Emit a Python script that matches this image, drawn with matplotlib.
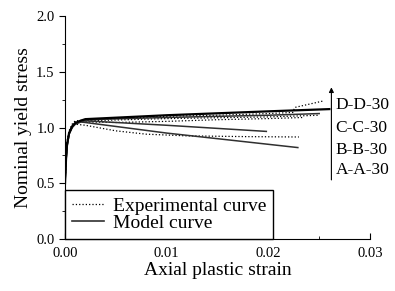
import matplotlib
matplotlib.use("Agg")
import matplotlib.pyplot as plt
from matplotlib.ticker import MultipleLocator, FormatStrFormatter

plt.rcParams["font.family"] = ["Liberation Serif", "DejaVu Serif"]

# Experimental curves (strain, nominal stress)
exp_a_x = [0, 0.0001, 0.0002, 0.0004, 0.0007, 0.001, 0.002, 0.005, 0.008, 0.012, 0.018, 0.023]
exp_a_y = [0.5, 0.72, 0.85, 0.95, 1.0, 1.03, 1.02, 0.97, 0.94, 0.925, 0.918, 0.915]
exp_b_x = [0, 0.0001, 0.0002, 0.0004, 0.0007, 0.001, 0.002, 0.005, 0.01, 0.015, 0.02, 0.0235]
exp_b_y = [0.5, 0.72, 0.85, 0.95, 1.01, 1.04, 1.05, 1.045, 1.055, 1.07, 1.08, 1.09]
exp_c_x = [0, 0.0001, 0.0002, 0.0004, 0.0007, 0.001, 0.002, 0.01, 0.02, 0.025]
exp_c_y = [0.5, 0.72, 0.86, 0.96, 1.02, 1.05, 1.06, 1.08, 1.095, 1.11]
exp_d_x = [0, 0.0001, 0.0002, 0.0004, 0.0007, 0.001, 0.002, 0.005, 0.01, 0.015, 0.02, 0.0224, 0.0226, 0.0255]
exp_d_y = [0.5, 0.73, 0.87, 0.97, 1.03, 1.06, 1.065, 1.08, 1.1, 1.11, 1.125, 1.135, 1.18, 1.24]

# Model curves
mod_a_x = [0, 0.0001, 0.0002, 0.0004, 0.0007, 0.001, 0.0015, 0.002, 0.01, 0.0229]
mod_a_y = [0.5, 0.7, 0.83, 0.94, 1.0, 1.03, 1.05, 1.045, 0.95, 0.82]
mod_b_x = [0, 0.0001, 0.0002, 0.0004, 0.0007, 0.001, 0.0015, 0.002, 0.01, 0.0198]
mod_b_y = [0.5, 0.7, 0.83, 0.94, 1.0, 1.03, 1.05, 1.06, 1.02, 0.965]
mod_c_x = [0, 0.0001, 0.0002, 0.0004, 0.0007, 0.001, 0.0015, 0.002, 0.01, 0.02, 0.025]
mod_c_y = [0.5, 0.71, 0.84, 0.95, 1.01, 1.04, 1.06, 1.07, 1.09, 1.11, 1.125]
mod_d_x = [0, 0.0001, 0.0002, 0.0004, 0.0007, 0.001, 0.0015, 0.002, 0.01, 0.02, 0.026]
mod_d_y = [0.5, 0.72, 0.85, 0.95, 1.01, 1.04, 1.06, 1.075, 1.11, 1.145, 1.165]

specimens = ["D-D-30", "C-C-30", "B-B-30", "A-A-30"]
label_y = [1.2, 0.995, 0.8, 0.615]

fig = plt.figure(figsize=(3.95, 2.91), dpi=100)
ax = fig.add_axes([0.1646, 0.1787, 0.7722, 0.7663])

# Experimental curves, dotted
for xs, ys in [(exp_a_x, exp_a_y), (exp_b_x, exp_b_y), (exp_c_x, exp_c_y), (exp_d_x, exp_d_y)]:
    ax.plot(xs, ys, color="black", linestyle=":", linewidth=0.9)

# Model curves, solid
for xs, ys in [(mod_a_x, mod_a_y), (mod_b_x, mod_b_y), (mod_c_x, mod_c_y)]:
    ax.plot(xs, ys, color="#303030", linestyle="-", linewidth=1.1)
ax.plot(mod_d_x, mod_d_y, color="black", linestyle="-", linewidth=1.6)

# Legend proxies
ax.plot([], [], color="black", linestyle=":", linewidth=0.9, label="Experimental curve")
ax.plot([], [], color="#303030", linestyle="-", linewidth=1.2, label="Model curve")

ax.set_xlim(0, 0.03)
ax.set_ylim(0, 2.0)
ax.xaxis.set_major_locator(MultipleLocator(0.01))
ax.xaxis.set_minor_locator(MultipleLocator(0.005))
ax.yaxis.set_major_locator(MultipleLocator(0.5))
ax.yaxis.set_minor_locator(MultipleLocator(0.25))
ax.xaxis.set_major_formatter(FormatStrFormatter("%.2f"))
ax.yaxis.set_major_formatter(FormatStrFormatter("%.1f"))

ax.spines["top"].set_visible(False)
ax.spines["right"].set_visible(False)
ax.tick_params(axis="x", which="both", direction="in", labelsize=10.5, pad=6)
ax.tick_params(axis="y", which="both", direction="out", labelsize=10.5)
ax.tick_params(which="major", length=4)
ax.tick_params(which="minor", length=2.5)

ax.set_xlabel("Axial plastic strain", fontsize=14, labelpad=1)
ax.set_ylabel("Nominal yield stress", fontsize=14, labelpad=3)

# Arrow and specimen labels
ax.annotate("", xy=(0.0262, 1.36), xytext=(0.0262, 0.53),
            arrowprops=dict(arrowstyle="-|>", color="black", lw=0.8,
                            mutation_scale=7, shrinkA=0, shrinkB=0),
            annotation_clip=False)
for name, yv in zip(specimens, label_y):
    ax.text(0.0266, yv, name, fontsize=12.5, va="center", ha="left", clip_on=False)

leg = ax.legend(loc="lower left", fontsize=14, frameon=True, fancybox=False,
                borderaxespad=0, handlelength=1.65, handletextpad=0.45,
                borderpad=0.35, labelspacing=0.0)
leg.get_frame().set_edgecolor("black")
leg.get_frame().set_linewidth(1.0)
leg.get_frame().set_alpha(1)

fig.savefig("out.png", dpi=100)
